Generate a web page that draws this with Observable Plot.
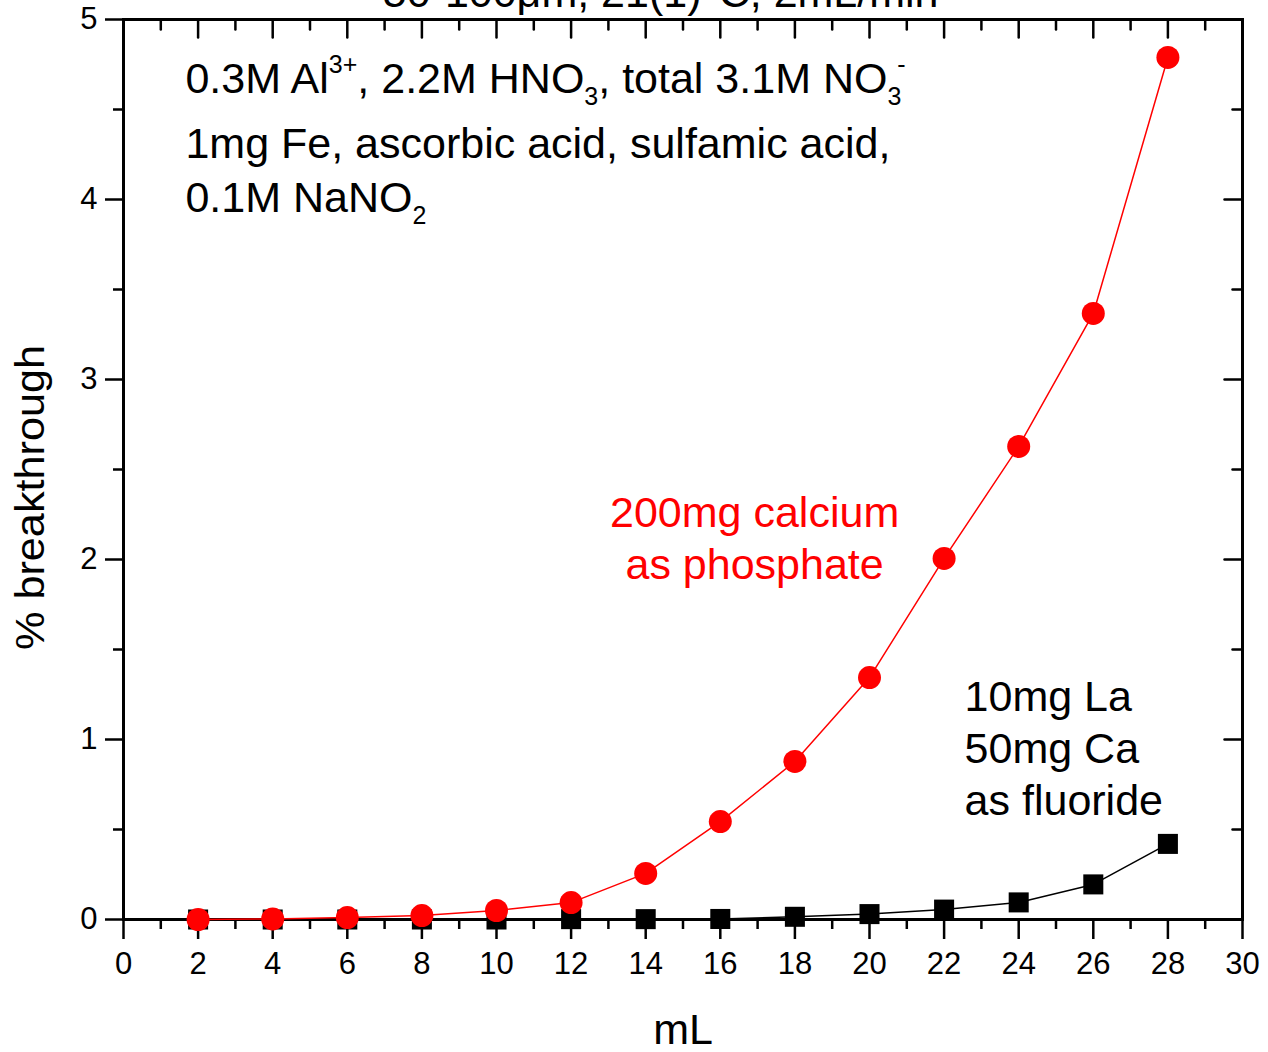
<!DOCTYPE html>
<html><head><meta charset="utf-8">
<script src="https://cdn.jsdelivr.net/npm/d3@7"></script>
<script src="https://cdn.jsdelivr.net/npm/@observablehq/plot@0.6"></script>
<style>body{margin:0;background:#fff} svg{display:block}</style>
</head><body><div id="chart"></div>
<script>
// Data
const volumes = [2, 4, 6, 8, 10, 12, 14, 16, 18, 20, 22, 24, 26, 28];
const calciumPhosphate = [0.0, 0.003, 0.011, 0.022, 0.05, 0.094, 0.256, 0.544, 0.878, 1.344, 2.006, 2.628, 3.367, 4.789];
const laCaFluoride = [0.0, 0.0, 0.0, 0.0, 0.0, 0.002, 0.002, 0.003, 0.015, 0.03, 0.055, 0.095, 0.195, 0.42];
const xMajorTicks = [0, 2, 4, 6, 8, 10, 12, 14, 16, 18, 20, 22, 24, 26, 28, 30];
const xMinorTicks = [1, 3, 5, 7, 9, 11, 13, 15, 17, 19, 21, 23, 25, 27, 29];
const yMajorTicks = [0, 1, 2, 3, 4, 5];
const yMinorTicks = [0.5, 1.5, 2.5, 3.5, 4.5];
const titleText = ["50-100\u03BCm, 21(1)\u00B0C, 2mL/min"];
const conditionNote = ["0.3M Al^{3+}, 2.2M HNO_{3}, total 3.1M NO_{3}^{-}", "1mg Fe, ascorbic acid, sulfamic acid,", "0.1M NaNO_{2}"];
const redNote = ["200mg calcium", "as phosphate"];
const blackNote = ["10mg La", "50mg Ca", "as fluoride"];
const xLabel = ["mL"];
const yLabel = ["% breakthrough"];

const redRows = volumes.map((v, i) => ({mL: v, pct: calciumPhosphate[i]}));
const blackRows = volumes.map((v, i) => ({mL: v, pct: laCaFluoride[i]}));

const tickShape = {draw(ctx, l) { ctx.moveTo(0, 0); ctx.lineTo(0, -l); }};
const TW = 2.5;
const FS = 43;

const svg = Plot.plot({
  width: 1268, height: 1052,
  marginLeft: 123, marginRight: 26, marginTop: 19, marginBottom: 133,
  x: {domain: [0, 30]},
  y: {domain: [0, 5]},
  style: {fontFamily: "'Liberation Sans', Arial, sans-serif", background: "white", color: "black", overflow: "visible"},
  marks: [
    Plot.axisX(xMajorTicks, {anchor: "bottom", tickSize: 20, tickPadding: 12, fontSize: 31, strokeWidth: TW, label: null, tickFormat: d => String(d)}),
    Plot.axisX(xMinorTicks, {anchor: "bottom", tickSize: 10, strokeWidth: TW, label: null, tickFormat: () => ""}),
    Plot.axisY(yMajorTicks, {anchor: "left", tickSize: 18, tickPadding: 8, fontSize: 31, strokeWidth: TW, label: null, tickFormat: d => String(d)}),
    Plot.axisY(yMinorTicks, {anchor: "left", tickSize: 10, strokeWidth: TW, label: null, tickFormat: () => ""}),
    Plot.vector(xMajorTicks, {x: d => d, frameAnchor: "top", length: 18, rotate: 180, anchor: "start", shape: tickShape, stroke: "black", strokeWidth: TW}),
    Plot.vector(xMinorTicks, {x: d => d, frameAnchor: "top", length: 10, rotate: 180, anchor: "start", shape: tickShape, stroke: "black", strokeWidth: TW}),
    Plot.vector(yMajorTicks, {y: d => d, frameAnchor: "right", length: 18, rotate: -90, anchor: "start", shape: tickShape, stroke: "black", strokeWidth: TW}),
    Plot.vector(yMinorTicks, {y: d => d, frameAnchor: "right", length: 10, rotate: -90, anchor: "start", shape: tickShape, stroke: "black", strokeWidth: TW}),
    Plot.frame({stroke: "black", strokeWidth: 3}),
    Plot.line(blackRows, {x: "mL", y: "pct", stroke: "black", strokeWidth: 1.5}),
    Plot.dot(blackRows, {x: "mL", y: "pct", symbol: "square", r: 11.3, fill: "black"}),
    Plot.line(redRows, {x: "mL", y: "pct", stroke: "#ff0000", strokeWidth: 1.5}),
    Plot.dot(redRows, {x: "mL", y: "pct", r: 11.5, fill: "#ff0000"}),
    Plot.text(titleText, {x: 14.4, y: 5.067, text: d => d, textAnchor: "middle", lineAnchor: "bottom", fontSize: FS, fill: "black"}),
    Plot.text(conditionNote, {x: 1.66, y: (d, i) => [4.589, 4.233, 3.933][i], text: d => d, textAnchor: "start", lineAnchor: "bottom", fontSize: FS, fill: "black"}),
    Plot.text(redNote, {x: 16.92, y: (d, i) => [2.183, 1.894][i], text: d => d, textAnchor: "middle", lineAnchor: "bottom", fontSize: FS, fill: "#ff0000"}),
    Plot.text(blackNote, {x: 22.55, y: (d, i) => [1.161, 0.867, 0.578][i], text: d => d, textAnchor: "start", lineAnchor: "bottom", fontSize: FS, fill: "black"}),
    Plot.text(xLabel, {frameAnchor: "bottom", dy: 124, text: d => d, lineAnchor: "bottom", fontSize: FS, fill: "black"}),
    Plot.text(yLabel, {frameAnchor: "left", dx: -80, dy: 28, rotate: -90, text: d => d, textAnchor: "middle", lineAnchor: "bottom", fontSize: 41, fill: "black"})
  ]
});

// Turn ^{...} and _{...} markup into real superscript / subscript tspans
const NS = "http://www.w3.org/2000/svg";
function setRich(el, s) {
  el.textContent = "";
  const re = /([\^_])\{([^}]*)\}/g;
  let last = 0, shift = 0, prevSub = false, m;
  const add = (txt, target, small, dx) => {
    const t = document.createElementNS(NS, "tspan");
    t.textContent = txt;
    const dy = target - shift;
    if (dy) t.setAttribute("dy", dy);
    if (dx) t.setAttribute("dx", dx);
    if (small) t.setAttribute("font-size", small);
    el.appendChild(t);
    shift = target;
  };
  while ((m = re.exec(s))) {
    if (m.index > last) { add(s.slice(last, m.index), 0); prevSub = false; }
    if (m[1] === "_") { add(m[2], 12, 25); prevSub = true; }
    else { add(m[2], -20, 25, prevSub ? -4 : 0); prevSub = false; }
    last = re.lastIndex;
  }
  if (last < s.length) add(s.slice(last), 0);
}
d3.select(svg).selectAll("text").each(function() {
  const s = this.textContent;
  if (/[\^_]\{/.test(s)) setRich(this, s);
  if (s === yLabel[0]) { this.setAttribute("textLength", 305); this.setAttribute("lengthAdjust", "spacingAndGlyphs"); }
});

document.getElementById("chart").appendChild(svg);
</script>
</body></html>
